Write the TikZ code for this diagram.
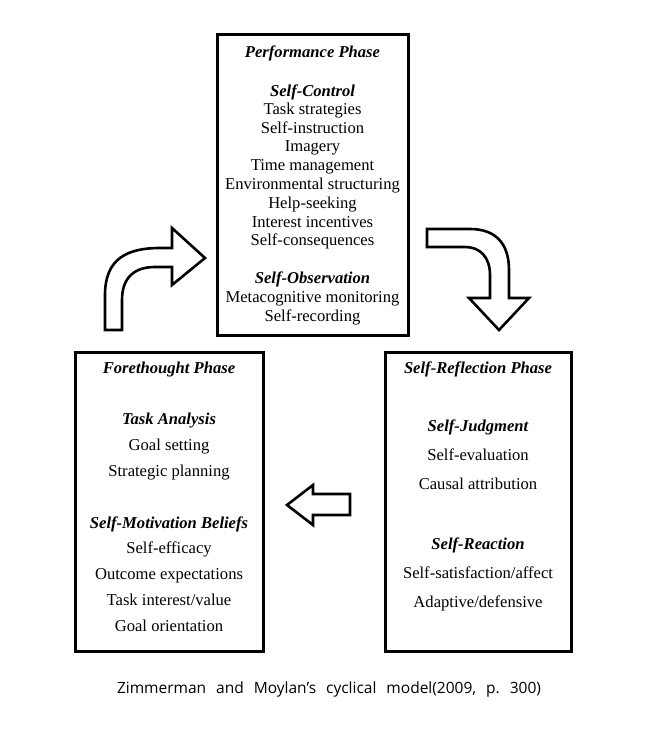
\documentclass[tikz,border=0pt]{standalone}
\usepackage{fontspec}
\setmainfont{Liberation Serif}
\newfontfamily\capfont{Open Sans}
\newcommand{\wg}{\hspace{10pt}}
\begin{document}
\begin{tikzpicture}[x=1pt,y=-1pt,
  box/.style={draw=black,line width=3pt},
  arr/.style={draw=black,line width=2.6pt,fill=white,line join=miter},
  txt/.style={anchor=base,inner sep=0pt,font=\fontsize{16.6}{19}\selectfont},
  hd/.style={txt,font=\fontsize{16.6}{19}\selectfont\bfseries\itshape},
  captext/.style={anchor=base,inner sep=0pt,font=\capfont\fontsize{15.5}{18}\selectfont}]
\useasboundingbox (0,0) rectangle (647,735);
% boxes
\draw[box] (217,35) rectangle (408,335);
\draw[box] (75,352) rectangle (263,651);
\draw[box] (385,352) rectangle (571,651);
% Performance
\node[hd]  (p0) at (312.5,57.5) {Performance Phase};
\node[hd]  (p1) at (312.5,96.5) {Self-Control};
\node[txt] (p2) at (312.5,115) {Task strategies};
\node[txt] (p3) at (312.5,133.5) {Self-instruction};
\node[txt] (p4) at (312.5,152) {Imagery};
\node[txt] (p5) at (312.5,171) {Time management};
\node[txt] (p6) at (312.5,189.5) {Environmental structuring};
\node[txt] (p7) at (312.5,208) {Help-seeking};
\node[txt] (p8) at (312.5,227) {Interest incentives};
\node[txt] (p9) at (312.5,245.5) {Self-consequences};
\node[hd]  (p10) at (312.5,283.5) {Self-Observation};
\node[txt] (p11) at (312.5,302.5) {Metacognitive monitoring};
\node[txt] (p12) at (312.5,321.5) {Self-recording};
% Forethought
\node[hd]  (f0) at (169,373) {Forethought Phase};
\node[hd]  (f1) at (169,424.5) {Task Analysis};
\node[txt] (f2) at (169,450.5) {Goal setting};
\node[txt] (f3) at (169,476) {Strategic planning};
\node[hd]  (f4) at (169,528) {Self-Motivation Beliefs};
\node[txt] (f5) at (169,553.5) {Self-efficacy};
\node[txt] (f6) at (169,579) {Outcome expectations};
\node[txt] (f7) at (169,605) {Task interest/value};
\node[txt] (f8) at (169,631) {Goal orientation};
% Self-Reflection
\node[hd]  (r0) at (478,373) {Self-Reflection Phase};
\node[hd]  (r1) at (478,431.5) {Self-Judgment};
\node[txt] (r2) at (478,460.5) {Self-evaluation};
\node[txt] (r3) at (478,489.5) {Causal attribution};
\node[hd]  (r4) at (478,549.5) {Self-Reaction};
\node[txt] (r5) at (478,578.5) {Self-satisfaction/affect};
\node[txt] (r6) at (478,607.5) {Adaptive/defensive};
% arrows
\draw[arr] (105,330) -- (105,295) .. controls (105,258) and (128,248) .. (160,248)
  -- (172,248) -- (172,228) -- (205,258) -- (172,285) -- (172,267) -- (155,267)
  .. controls (135,267) and (122,277) .. (122,300) -- (122,330) -- cycle;
\draw[arr] (427,229) -- (470,229) .. controls (496,229) and (509,244) .. (509,270)
  -- (509,298) -- (529,298) -- (499,330) -- (469,298) -- (490,298) -- (490,275)
  .. controls (490,257) and (480,247) .. (465,247) -- (427,247) -- cycle;
\draw[arr] (350,494) -- (313,494) -- (313,485) -- (287,505) -- (313,525) -- (313,515) -- (350,515) -- cycle;
% caption
\node[captext] (capt) at (329,693) {Zimmerman\wg and\wg Moylan’s\wg cyclical\wg model(2009,\wg p.\wg 300)};
\end{tikzpicture}
\end{document}
